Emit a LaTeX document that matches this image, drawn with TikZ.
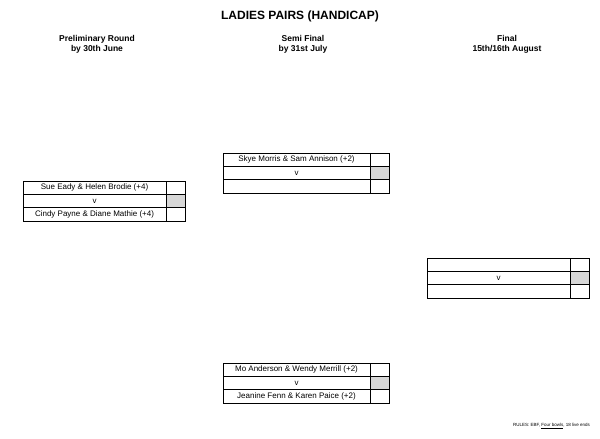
\documentclass[tikz,border=0pt]{standalone}
\usepackage{fontspec}
\setmainfont{Liberation Sans}
\usetikzlibrary{positioning}
\definecolor{scoregrey}{RGB}{215,215,215}

% one fixture: name, x, y (top left, px), width, first pair, second pair
\newcommand{\tie}[6]{%
  \fill[scoregrey] (#2+#4-19,#3+13.3) rectangle (#2+#4,#3+26.6);
  \draw[line width=0.8pt] (#2,#3) rectangle (#2+#4,#3+40);
  \draw[line width=0.4pt] (#2,#3+13.3) -- (#2+#4,#3+13.3)
    (#2,#3+26.6) -- (#2+#4,#3+26.6)
    (#2+#4-19,#3) -- (#2+#4-19,#3+40);
  \node[pair] (#1-a) at (#2+#4/2-9.5,#3+6.65) {#5};
  \node[pair] (#1-v) at (#2+#4/2-9.5,#3+19.95) {v};
  \node[pair] (#1-b) at (#2+#4/2-9.5,#3+33.25) {#6};
}

\begin{document}
\begin{tikzpicture}[
    x=1pt, y=-1pt,
    pair/.style={font=\fontsize{8}{9}\selectfont, inner sep=0pt},
    heading/.style={font=\bfseries\fontsize{8.5}{10}\selectfont, align=center},
    title/.style={font=\bfseries\fontsize{12}{14}\selectfont}
]
    \useasboundingbox (0,0) rectangle (600,439);

    % Title and round headings
    \node[title] (title) at (300,16) {LADIES PAIRS (HANDICAP)};
    \node[heading] (prelim) at (97,44) {Preliminary Round\\by 30th June};
    \node[heading] (semi) at (303,44) {Semi Final\\by 31st July};
    \node[heading] (final) at (507,44) {Final\\15th/16th August};

    % Fixtures
    \tie{pre}{23}{181}{162}{Sue Eady \& Helen Brodie (+4)}{Cindy Payne \& Diane Mathie (+4)}
    \tie{semitop}{223}{153}{166}{Skye Morris \& Sam Annison (+2)}{}
    \tie{semibot}{223}{363}{166}{Mo Anderson \& Wendy Merrill (+2)}{Jeanine Fenn \& Karen Paice (+2)}
    \tie{fin}{427}{258}{162}{}{}

    % Rules
    \node[font=\fontsize{4.5}{5}\selectfont, anchor=east, inner sep=0pt] (rules) at (590,426)
      {RULES: EBF, \underline{Four bowls}, 18 live ends};
\end{tikzpicture}
\end{document}
